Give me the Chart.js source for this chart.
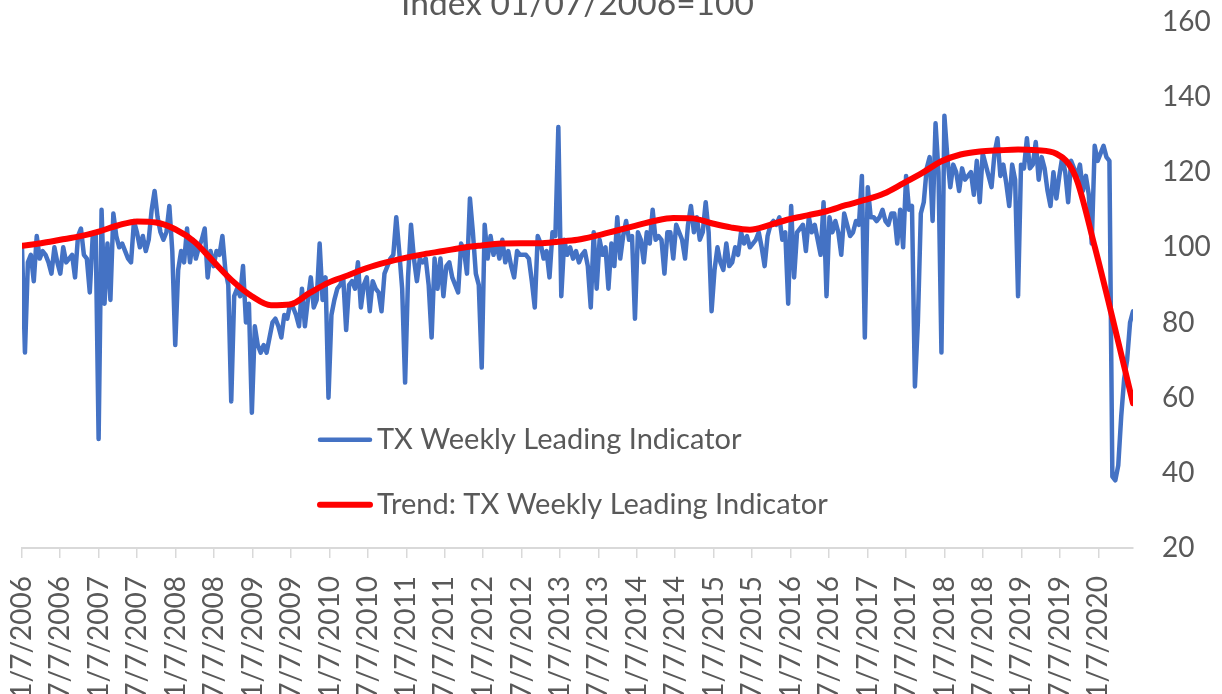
<!DOCTYPE html>
<html>
<head>
<meta charset="utf-8">
<script src="https://cdn.jsdelivr.net/npm/chart.js@4.4.0/dist/chart.umd.min.js"></script>
<style>
  html, body { margin: 0; padding: 0; background: #fff; overflow: hidden; }
  #wrap { position: relative; width: 1222px; height: 694px; overflow: hidden; }
  #leadingChart { position: absolute; left: 0; top: -24px; }
</style>
</head>
<body>
<div id="wrap">
  <canvas id="leadingChart" width="1222" height="771"></canvas>
</div>
<script>
// TX weekly leading indicator, one reading every 2nd week from 1/7/2006
const weekStep = 2;
const txWeekly = [
  100, 72, 96, 98, 91, 103, 97, 99, 98, 96,
  93, 100, 96, 93, 100, 96, 97, 98, 92, 103,
  105, 98, 97, 88, 103, 104, 49, 110, 85, 101,
  86, 109, 103, 100, 101, 99, 97, 96, 107, 104,
  100, 103, 99, 102, 110, 115, 108, 104, 102, 104,
  111, 99, 74, 94, 99, 96, 105, 96, 102, 97,
  100, 102, 105, 92, 99, 95, 99, 98, 103, 94,
  90, 59, 87, 89, 87, 95, 80, 85, 56, 79,
  74, 72, 74, 72, 76, 80, 81, 79, 76, 82,
  81, 85, 84, 82, 79, 89, 79, 86, 92, 84,
  86, 101, 86, 92, 60, 82, 86, 89, 90, 92,
  78, 90, 91, 89, 96, 84, 90, 92, 83, 91,
  89, 88, 83, 93, 95, 97, 98, 108, 99, 89,
  64, 92, 106, 97, 91, 97, 96, 97, 90, 76,
  97, 89, 97, 87, 95, 96, 92, 90, 88, 101,
  99, 93, 113, 104, 93, 90, 68, 106, 97, 103,
  98, 101, 97, 102, 96, 99, 95, 92, 99, 98,
  98, 98, 97, 91, 84, 103, 101, 97, 99, 92,
  104, 103, 132, 87, 102, 98, 100, 97, 99, 96,
  98, 99, 95, 84, 104, 89, 102, 98, 100, 89,
  101, 95, 108, 97, 103, 107, 102, 103, 81, 104,
  102, 96, 104, 101, 110, 102, 103, 102, 93, 104,
  104, 97, 106, 104, 102, 97, 106, 111, 104, 108,
  102, 104, 112, 104, 83, 94, 100, 96, 94, 101,
  95, 96, 100, 98, 104, 101, 103, 100, 101, 102,
  104, 100, 95, 103, 106, 107, 106, 108, 102, 104,
  85, 111, 92, 104, 105, 106, 99, 108, 104, 106,
  102, 98, 112, 87, 108, 104, 107, 104, 98, 109,
  106, 103, 104, 107, 106, 119, 76, 116, 108, 108,
  107, 108, 110, 107, 106, 109, 109, 101, 110, 100,
  119, 110, 111, 63, 80, 109, 112, 121, 124, 107,
  133, 120, 72, 135, 124, 116, 122, 120, 115, 121,
  118, 119, 120, 114, 123, 112, 125, 122, 119, 116,
  125, 129, 119, 122, 117, 111, 122, 118, 87, 122,
  121, 129, 121, 122, 128, 118, 124, 121, 115, 111,
  120, 113, 119, 124, 120, 112, 123, 121, 119, 122,
  115, 119, 114, 101, 127, 123, 125, 127, 124, 123,
  39, 38, 42, 55, 65, 70, 80, 83
];

// trend line, one reading every 13 weeks
const trendStep = 13;
const txTrend = [
  100.4, 101.1, 102, 102.9, 104.2, 105.8, 106.9, 106.6, 104.8, 101.5,
  96.2, 91, 87, 84.6, 84.8, 87.8, 90.6, 92.5, 94.5, 96,
  97.2, 98.2, 99, 99.9, 100.5, 101, 101.1, 101.1, 101.5, 102,
  103.1, 104.4, 105.7, 107, 107.8, 107.7, 106.4, 105.3, 104.7, 105.9,
  107.4, 108.5, 109.6, 111.2, 112.6, 114.3, 117, 119.8, 122.9, 124.7,
  125.5, 125.8, 126, 125.8, 124.9, 118.8, 100.2, 79.7, 58.5
];

const xTickLabels = [
  "1/7/2006", "7/7/2006", "1/7/2007", "7/7/2007", "1/7/2008", "7/7/2008",
  "1/7/2009", "7/7/2009", "1/7/2010", "7/7/2010", "1/7/2011", "7/7/2011",
  "1/7/2012", "7/7/2012", "1/7/2013", "7/7/2013", "1/7/2014", "7/7/2014",
  "1/7/2015", "7/7/2015", "1/7/2016", "7/7/2016", "1/7/2017", "7/7/2017",
  "1/7/2018", "7/7/2018", "1/7/2019", "7/7/2019", "1/7/2020"
];
const yTickValues = [20, 40, 60, 80, 100, 120, 140, 160];
const seriesNames = ["TX Weekly Leading Indicator", "Trend: TX Weekly Leading Indicator"];
const chartTitle = "Index 01/07/2006=100";

const textGrey = "#595959";
const fontFamily = "Lato, 'Open Sans', sans-serif";

const startDay = new Date(xTickLabels[0]);
function weeksFrom(label) {
  return (new Date(label) - startDay) / (7 * 24 * 3600 * 1000);
}

const lastWeek = (txWeekly.length - 1) * weekStep;

// legend sits inside the plot, left of centre
const insideLegend = {
  id: "insideLegend",
  afterDatasetsDraw(chart) {
    const ctx = chart.ctx;
    const area = chart.chartArea;
    ctx.save();
    ctx.font = "29px " + fontFamily;
    ctx.textBaseline = "middle";
    ctx.textAlign = "left";
    chart.data.datasets.forEach((ds, k) => {
      const y = area.top + 418 + k * 65;
      const x = area.left + 298;
      ctx.strokeStyle = ds.borderColor;
      ctx.lineWidth = ds.borderWidth;
      ctx.lineCap = "round";
      ctx.beginPath();
      ctx.moveTo(x, y);
      ctx.lineTo(x + 50, y);
      ctx.stroke();
      ctx.fillStyle = textGrey;
      ctx.fillText(ds.label, x + 57, y);
    });
    ctx.restore();
  },
};

const ctx = document.getElementById("leadingChart").getContext("2d");

let leadingChart = new Chart(ctx, {
  type: "line",
  data: {
    datasets: [
      {
        label: seriesNames[0],
        data: txWeekly.map((v, i) => ({ x: i * weekStep, y: v })),
        borderColor: "#4472C4",
        borderWidth: 4.5,
        borderJoinStyle: "round",
        borderCapStyle: "round",
        pointRadius: 0,
        tension: 0,
        order: 1,
      },
      {
        label: seriesNames[1],
        data: txTrend.map((v, j) => ({ x: j * trendStep, y: v })),
        borderColor: "#FF0000",
        borderWidth: 6,
        borderJoinStyle: "round",
        borderCapStyle: "round",
        pointRadius: 0,
        cubicInterpolationMode: "monotone",
        order: 0,
      },
    ],
  },
  options: {
    responsive: false,
    animation: false,
    layout: {
      padding: { left: 22, right: 0, top: 0, bottom: 0 },
    },
    scales: {
      x: {
        type: "linear",
        min: 0,
        max: lastWeek,
        afterBuildTicks: (scale) => {
          scale.ticks = xTickLabels.map((lbl) => ({ value: weeksFrom(lbl) }));
        },
        afterFit: (scale) => {
          scale.height = 199;
        },
        grid: {
          drawOnChartArea: false,
          drawTicks: true,
          tickLength: 10,
          color: "#d9d9d9",
          lineWidth: 1.5,
        },
        border: { display: true, color: "#d9d9d9", width: 2 },
        ticks: {
          autoSkip: false,
          maxRotation: 90,
          minRotation: 90,
          padding: 18,
          color: textGrey,
          font: { family: fontFamily, size: 28 },
          callback: function (value, index) {
            return xTickLabels[index];
          },
        },
      },
      y: {
        position: "right",
        min: yTickValues[0],
        max: yTickValues[yTickValues.length - 1],
        afterBuildTicks: (scale) => {
          scale.ticks = yTickValues.map((v) => ({ value: v }));
        },
        afterFit: (scale) => {
          scale.width = 89;
        },
        grid: { display: false, drawTicks: false },
        border: { display: false },
        ticks: {
          padding: 29,
          color: textGrey,
          font: { family: fontFamily, size: 28 },
        },
      },
    },
    plugins: {
      legend: { display: false },
      tooltip: { enabled: false },
      title: {
        display: true,
        fullSize: false,
        text: chartTitle,
        color: textGrey,
        padding: { top: 0, bottom: -2.5 },
        font: { family: fontFamily, size: 33.5, weight: "normal" },
      },
    },
  },
  plugins: [insideLegend],
});
</script>
</body>
</html>
